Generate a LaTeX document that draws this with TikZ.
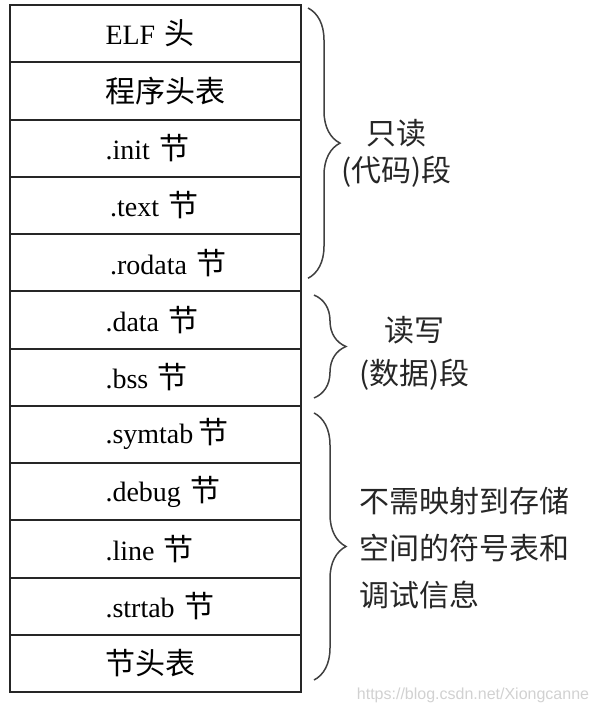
\documentclass[tikz,border=0pt]{standalone}
\usepackage{fontspec}
\setmainfont{Liberation Serif}
\newfontfamily\cjkfont{Noto Sans CJK SC}
\newfontfamily\wmfont{Liberation Sans}
\usetikzlibrary{positioning,decorations.pathreplacing}
\newcommand{\zh}[1]{{\cjkfont\fontsize{15}{18}\selectfont #1}}
\hyphenpenalty=10000

\begin{document}
\begin{tikzpicture}[x=0.5pt,y=-0.5pt,
  sect/.style={draw=black!85,line width=1pt,minimum width=145.5pt,minimum height=28.625pt,
    inner sep=0pt,outer sep=0pt,text width=50pt,align=left,font=\fontsize{14}{16}\selectfont},
  brc/.style={draw=black!75,line width=0.75pt,decorate,decoration={brace,amplitude=16pt}},
  seg/.style={midway,anchor=west,text=black!85}]
\useasboundingbox (0,0) rectangle (598,714);
% sections of the file
\node [sect,anchor=north west] (elf) at (10,5) {ELF~\zh{头}};
\node [sect,below=0pt of elf] (phdr) {\zh{程序头表}};
\node [sect,below=0pt of phdr] (init) {.init~\zh{节}};
\node [sect,below=0pt of init] (text) {\,.text~\zh{节}};
\node [sect,below=0pt of text] (rodata) {\,.rodata~\zh{节}};
\node [sect,below=0pt of rodata] (data) {.data~\zh{节}};
\node [sect,below=0pt of data] (bss) {.bss~\zh{节}};
\node [sect,below=0pt of bss] (symtab) {.symtab\,\zh{节}};
\node [sect,below=0pt of symtab] (debug) {.debug~\zh{节}};
\node [sect,below=0pt of debug] (line) {.line~\zh{节}};
\node [sect,below=0pt of line] (strtab) {.strtab~\zh{节}};
\node [sect,below=0pt of strtab] (shdr) {\zh{节头表}};

% segments
\draw[brc] ([xshift=3.5pt,yshift=-1.5pt]elf.north east) -- ([xshift=3.5pt,yshift=6.5pt]rodata.south east)
  node[seg,xshift=13pt,yshift=-5pt,align=center,font=\cjkfont\fontsize{15}{18.5}\selectfont] (ro) {只读\\(代码)段};
\draw[brc] ([xshift=6.5pt,yshift=-1.9pt]data.north east) -- ([xshift=6.5pt,yshift=3.9pt]bss.south east)
  node[seg,xshift=19pt,yshift=-3.5pt,align=center,font=\cjkfont\fontsize{15}{21.5}\selectfont] (rw) {读写\\(数据)段};
\draw[brc] ([xshift=6.5pt,yshift=-3.6pt]symtab.north east) -- ([xshift=6.5pt,yshift=6pt]shdr.south east)
  node[seg,xshift=19pt,yshift=-1pt,align=left,font=\cjkfont\fontsize{15}{23.5}\selectfont] (nm) {不需映射到存储\\空间的符号表和\\调试信息};

\node[font=\wmfont\fontsize{8}{10}\selectfont,text=black!18] (wm) at (473,695) {https://blog.csdn.net/Xiongcanne};
\end{tikzpicture}
\end{document}
